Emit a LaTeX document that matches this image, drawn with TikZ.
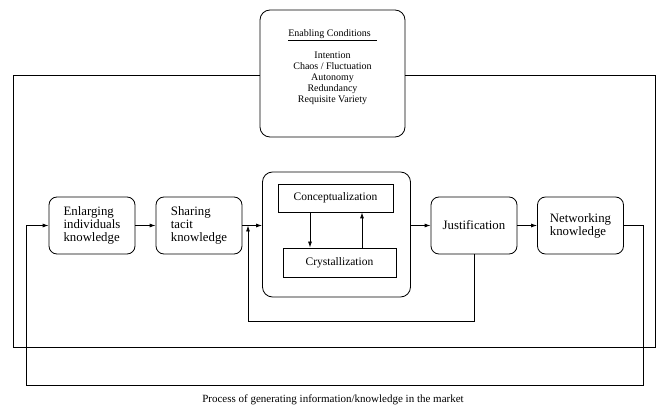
\documentclass[tikz,border=0pt]{standalone}
\usepackage{fontspec}
\setmainfont{Liberation Serif}
\usetikzlibrary{arrows.meta}
\tikzset{
  stage/.style={draw, rounded corners=8pt, minimum width=86pt, minimum height=57pt,
    align=left, font=\fontsize{12.8}{13}\selectfont},
  inner/.style={draw, minimum height=28pt, font=\fontsize{11.5}{13}\selectfont},
  frame/.style={draw, rounded corners=10pt},
  arr/.style={-{Latex[length=6pt,width=4pt]}},
}
\begin{document}
\begin{tikzpicture}[x=1pt,y=-1pt,line width=0.8pt]
      \useasboundingbox (0,0) rectangle (657,409);
      \node[frame, minimum width=145pt, minimum height=127pt] (cond) at (332.5,73.5) {};
      \node[align=center, font=\fontsize{10}{11}\selectfont] (condtxt) at (332.5,67.5)
        {\underline{Enabling Conditions\hspace{6pt}}\\[11pt]
         Intention\\ Chaos / Fluctuation\\ Autonomy\\ Redundancy\\ Requisite Variety};
      \coordinate (oTL) at (13,75);
      \coordinate (oBR) at (655,347);
      \draw (cond.west |- oTL) -- (oTL) |- (oBR) |- (cond.east |- oTL);
      \node[stage] (enl) at (92,225.5) {Enlarging\\individuals\\knowledge};
      \node[stage] (share) at (199,225.5) {Sharing\\tacit\\knowledge};
      \node[frame, minimum width=148pt, minimum height=125pt] (mid) at (336.5,234.5) {};
      \node[inner, minimum width=115pt] (concept) at (335.5,198) {Conceptualization};
      \node[inner, minimum width=113pt, minimum height=29pt] (crys) at (339.5,262.5) {Crystallization};
      \node[stage, align=center] (just) at (474,225.5) {Justification};
      \node[stage] (net) at (580.5,225.5) {Networking\\knowledge};
      \node[font=\fontsize{11}{12}\selectfont] (caption) at (333,400)
        {Process of generating information/knowledge in the market};
      \coordinate (fbL) at (248,321);
      \coordinate (mR) at (643,385);
      \coordinate (mL) at (26,385);
      \begin{scope}[arr]
        \draw (enl) to (share);
        \draw (share.east) to (share.east -| mid.west);
        \draw (just.west -| mid.east) to (just.west);
        \draw (just) to (net);
        \draw ([xshift=-25.5pt]concept.south) to ([xshift=-25.5pt]concept.south |- crys.north);
        \draw ([xshift=22.5pt]crys.north) to ([xshift=22.5pt]crys.north |- concept.south);
        \draw (just.south) |- (fbL) -- (fbL |- share.east);
        \draw (net.east) -| (mR) -- (mL) |- (enl.west);
      \end{scope}
\end{tikzpicture}
\end{document}
